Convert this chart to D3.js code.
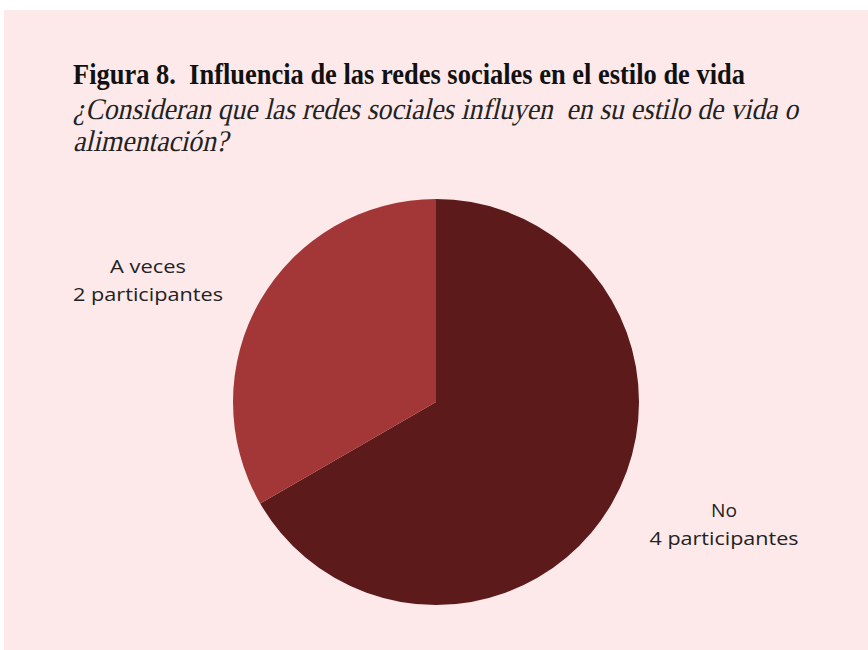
<!DOCTYPE html>
<html><head><meta charset="utf-8">
<script src="https://cdn.jsdelivr.net/npm/d3@7"></script>
<style>body{margin:0;background:#fff}</style>
</head><body>
<svg id="c" width="868" height="650"></svg>
<script>
const categories = ["No", "A veces"];
const values = [4, 2];
const labelLines = [["No", "4 participantes"], ["A veces", "2 participantes"]];
const colors = ["#5c1a1b", "#a33637"];
const titleText = "Figura 8.  Influencia de las redes sociales en el estilo de vida";
const subtitleLines = ["¿Consideran que las redes sociales influyen  en su estilo de vida o", "alimentación?"];

const svg = d3.select("#c");
svg.append("rect").attr("x",4).attr("y",10).attr("width",864).attr("height",640).attr("fill","#fde9ea");

svg.append("text").attr("x",73).attr("y",84)
  .attr("font-family","Liberation Serif").attr("font-weight","bold").attr("font-size",29)
  .attr("fill","#111").style("white-space","pre")
  .attr("textLength",672).attr("lengthAdjust","spacingAndGlyphs")
  .text(titleText);
const subW = [725, 155];
subtitleLines.forEach((t,i)=>{
  svg.append("text").attr("transform",`translate(73,${119+i*32}) skewX(-13)`)
    .attr("x",0).attr("y",0)
    .attr("font-family","Liberation Serif").attr("font-size",30)
    .attr("fill","#222").style("white-space","pre")
    .attr("textLength",subW[i]).attr("lengthAdjust","spacingAndGlyphs")
    .text(t);
});

const cx = 436, cy = 402, r = 203;
const pie = d3.pie().sort(null).value(d=>d)(values);
const arc = d3.arc().innerRadius(0).outerRadius(r);
const g = svg.append("g").attr("transform",`translate(${cx},${cy})`);
g.selectAll("path").data(pie).join("path").attr("d",arc).attr("fill",(d,i)=>colors[i]);

const labelPos = [[724,517],[148,273]];
const labelW = [[26,149],[76,150]];
labelLines.forEach((lines,i)=>{
  lines.forEach((t,j)=>{
    svg.append("text").attr("x",labelPos[i][0]).attr("y",labelPos[i][1]+j*28)
      .attr("text-anchor","middle").attr("font-family","Open Sans, sans-serif")
      .attr("font-size",19).attr("fill","#222")
      .attr("textLength",labelW[i][j]).attr("lengthAdjust","spacingAndGlyphs")
      .text(t);
  });
});
</script>
</body></html>
